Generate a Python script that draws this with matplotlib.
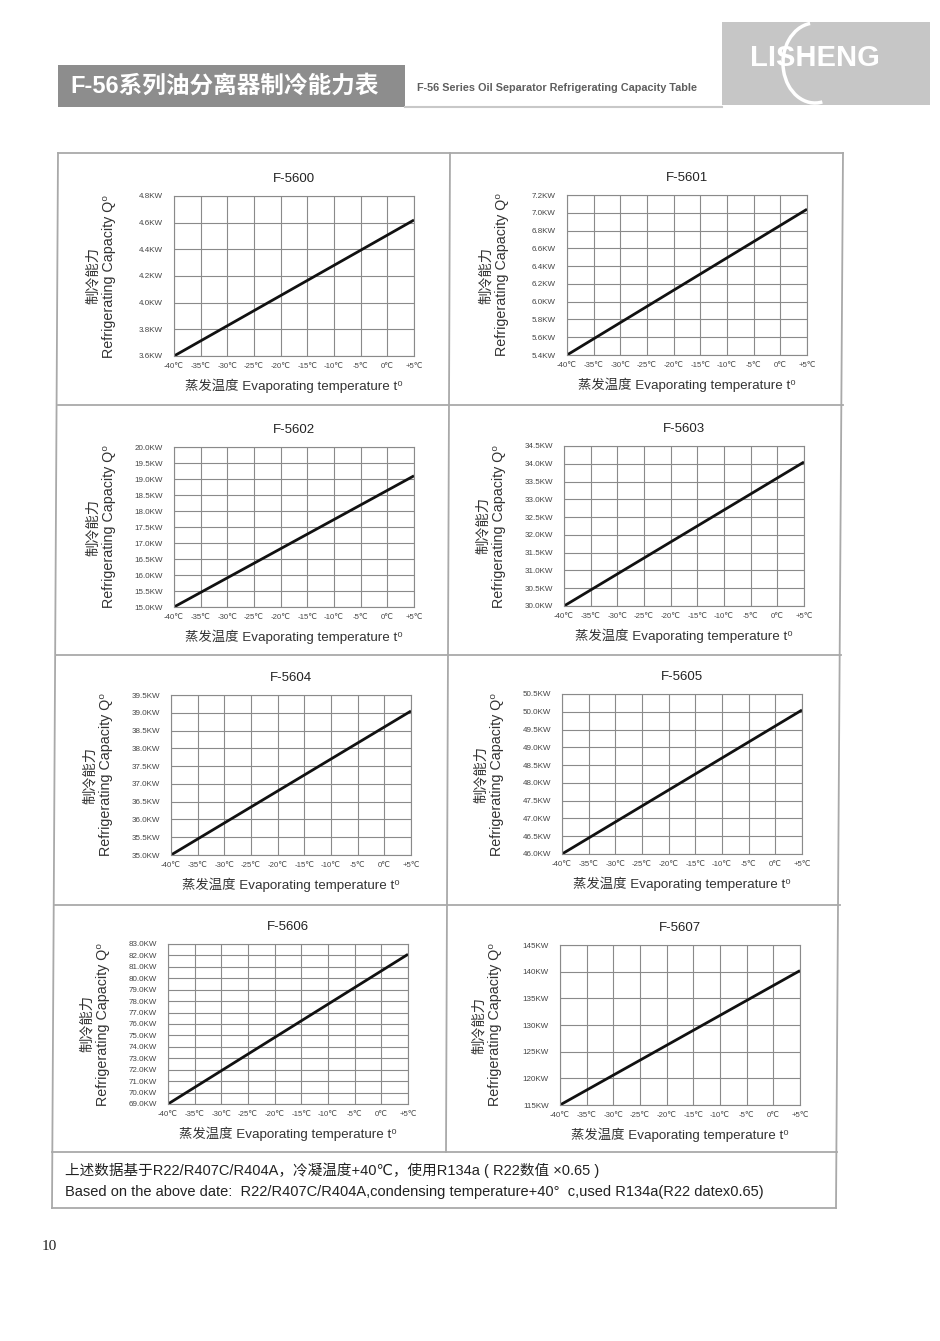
import numpy as np
import matplotlib
matplotlib.use("Agg")
import matplotlib.pyplot as plt
from matplotlib.lines import Line2D
from matplotlib.patches import Rectangle, Arc

plt.rcParams['font.family'] = ['Liberation Sans', 'DejaVu Sans', 'Noto Sans CJK SC']

# chart data read from the sheet
models = ['F-5600', 'F-5601', 'F-5602', 'F-5603', 'F-5604', 'F-5605', 'F-5606', 'F-5607']
y_min = [3.6, 5.4, 15.0, 30.0, 35.0, 46.0, 69.0, 115]
y_max = [4.8, 7.2, 20.0, 34.5, 39.5, 50.5, 83.0, 145]
y_step = [0.2, 0.2, 0.5, 0.5, 0.5, 0.5, 1.0, 5]
y_fmt = ['{:.1f}KW'] * 7 + ['{:.0f}KW']
temps = [-40, 5]
cap_start = [3.6, 5.4, 15.0, 30.0, 35.0, 46.0, 69.0, 115]
cap_end = [4.62, 7.04, 19.1, 34.05, 39.05, 50.05, 82.1, 140.2]
x_ticks = [-40, -35, -30, -25, -20, -15, -10, -5, 0, 5]
x_labels = ['-40℃', '-35℃', '-30℃', '-25℃', '-20℃', '-15℃', '-10℃', '-5℃', '0℃', '+5℃']

W, H = 940, 1341
fig = plt.figure(figsize=(W / 100, H / 100), dpi=100)
fig.patch.set_facecolor('white')


def fx(x):
    return x / W


def fy(y):
    return 1 - y / H


# header
fig.patches.append(Rectangle((fx(58), fy(107)), fx(347), 42 / H, transform=fig.transFigure,
                             facecolor='#8d8d8d', edgecolor='none'))
fig.text(fx(70), fy(86), 'F-56系列油分离器制冷能力表', color='white', fontsize=17, fontweight='bold',
         va='center', ha='left', family=['Liberation Sans', 'Noto Sans CJK SC'])
fig.text(fx(417), fy(88), 'F-56 Series Oil Separator Refrigerating Capacity Table', color='#5f5f5f',
         fontsize=7.8, fontweight='bold', va='center', ha='left')
fig.lines.append(Line2D([fx(405), fx(722)], [fy(107), fy(107)], transform=fig.transFigure,
                        color='#c8c8c8', lw=1.5))
# logo
fig.patches.append(Rectangle((fx(722), fy(105)), fx(208), 83 / H, transform=fig.transFigure,
                             facecolor='#c6c6c6', edgecolor='none'))
fig.patches.append(Arc((fx(815), fy(63)), 64 / W, 80 / H, theta1=100, theta2=285,
                       transform=fig.transFigure, color='white', lw=2.5))
fig.text(fx(815), fy(58), 'LISHENG', color='white', fontsize=21, fontweight='bold',
         va='center', ha='center')

# panel frame (scan is a little skewed)
fcol = '#a9a9a9'
frame = [
    ([58, 52], [153, 1208]),
    ([843, 836], [153, 1208]),
    ([450, 446], [153, 1152]),
    ([58, 843], [153, 153]),
    ([58, 843], [405, 405]),
    ([56, 841], [655, 655]),
    ([55, 840], [905, 905]),
    ([52, 837], [1152, 1152]),
    ([52, 836], [1208, 1208]),
]
for xs, ys in frame:
    fig.lines.append(Line2D([fx(v) for v in xs], [fy(v) for v in ys], transform=fig.transFigure,
                            color=fcol, lw=1.3))

lefts = [174, 567, 174, 564, 171, 562, 168, 560]
tops = [196, 195, 447, 446, 695, 694, 944, 945]
aw, ah = 240, 160

for i, name in enumerate(models):
    l, t = lefts[i], tops[i]
    ax = fig.add_axes([fx(l), fy(t + ah), aw / W, ah / H])
    ax.plot(temps, [cap_start[i], cap_end[i]], color='#111111', lw=2.0, solid_capstyle='butt')
    ax.set_xlim(-40, 5)
    ax.set_ylim(y_min[i], y_max[i])
    yt = np.arange(y_min[i], y_max[i] + y_step[i] / 2, y_step[i])
    ax.set_yticks(yt)
    ax.set_yticklabels([y_fmt[i].format(v) for v in yt], fontsize=5.8, color='#444444')
    ax.set_xticks(x_ticks)
    ax.set_xticklabels(x_labels, fontsize=5.6, color='#444444')
    ax.tick_params(length=0, pad=5)
    ax.tick_params(axis='y', pad=8)
    ax.grid(True, color='#8a8a8a', lw=0.8)
    ax.set_axisbelow(True)
    for s in ax.spines.values():
        s.set_color('#8a8a8a')
        s.set_linewidth(0.8)
    cx = l + aw / 2
    fig.text(fx(cx), fy(t - 17), name, fontsize=9.5, color='#222222', ha='center', va='center')
    fig.text(fx(l - 73), fy(t + ah / 2), '制冷能力\nRefrigerating Capacity Q⁰', fontsize=10.3,
             color='#333333', rotation=90, ha='center', va='center', multialignment='center',
             linespacing=1.25)
    fig.text(fx(cx), fy(t + ah + 30), '蒸发温度 Evaporating temperature t⁰', fontsize=9.6,
             color='#333333', ha='center', va='center')

# note box
fig.text(fx(65), fy(1170), '上述数据基于R22/R407C/R404A，冷凝温度+40℃，使用R134a ( R22数值 ×0.65 )',
         fontsize=10.5, color='#222222', ha='left', va='center')
fig.text(fx(65), fy(1192), 'Based on the above date:  R22/R407C/R404A,condensing temperature+40°  c,used R134a(R22 datex0.65)',
         fontsize=10.5, color='#222222', ha='left', va='center')

fig.text(fx(42), fy(1247), '10', fontsize=11, color='#222222', ha='left', va='center',
         family=['Liberation Serif', 'DejaVu Serif'])

fig.savefig('out.png', dpi=100)
